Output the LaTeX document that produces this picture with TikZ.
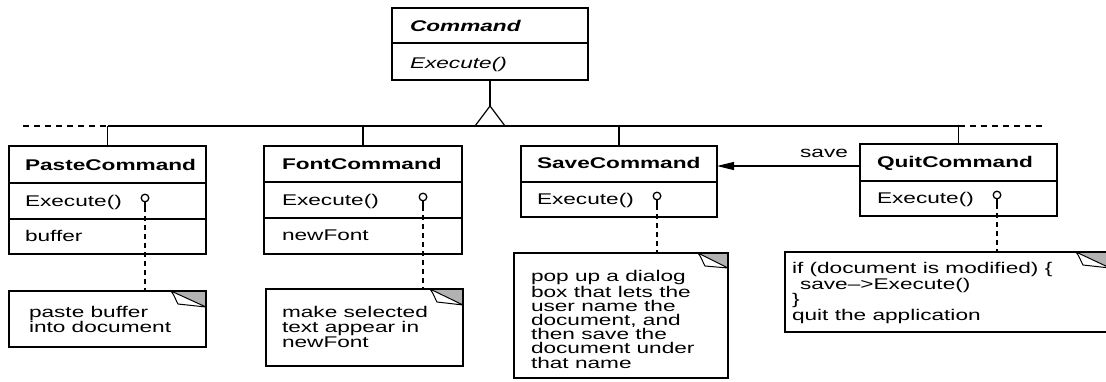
\documentclass[tikz,border=0pt]{standalone}
\usepackage{fontspec}
\setmainfont{Liberation Sans}[FakeStretch=1.46]
\usetikzlibrary{arrows.meta}
\newcommand\DiagSize{\fontsize{15.5}{15}\selectfont}
\tikzset{
  every node/.style={inner sep=0pt, outer sep=0pt},
  umlbox/.style={draw, line width=1.3pt, anchor=north west, fill=white},
  divider/.style={line width=1.2pt},
  cname/.style={anchor=base west, font=\DiagSize\bfseries},
  cnameit/.style={anchor=base west, font=\DiagSize\bfseries\itshape},
  optext/.style={anchor=base west, font=\DiagSize},
  opit/.style={anchor=base west, font=\DiagSize\itshape},
  notebox/.style={draw, line width=1.3pt, anchor=north west, fill=white},
  notetext/.style={anchor=base west, align=left},
  link/.style={line width=1.3pt},
  pinline/.style={line width=1.5pt, dash pattern=on 5pt off 4pt},
  hier/.style={line width=1.2pt},
  hierdash/.style={line width=1.2pt, dash pattern=on 6pt off 5pt},
  assoc/.style={line width=1.2pt, -{Triangle[length=17pt,width=8pt]}},
  foldfill/.style={fill=gray!60},
}
\newcommand\NoteCorner[3]{%
  \fill[foldfill] ([xshift=-#2pt]#1.north east) -- (#1.north east) -- ([yshift=-#3pt]#1.north east) -- cycle;
  \draw[line width=1.3pt] ([xshift=-#2pt]#1.north east) -- (#1.north east) -- ([yshift=-#3pt]#1.north east);
  \filldraw[fill=white, line width=1pt, line join=round]
    ([xshift=-#2pt]#1.north east)
    .. controls ([xshift=-#2pt+4pt,yshift=-5pt]#1.north east) and ([xshift=-#2pt+5pt,yshift=-10pt]#1.north east)
    .. ([xshift=-#2pt+7pt,yshift=-13pt]#1.north east)
    -- ([yshift=-#3pt]#1.north east) -- cycle;
}
\newcommand\PinAt[2]{%
  \draw[link] (#1) circle (3.8pt);
  \draw[link] ([yshift=-3.8pt]#1) -- ([yshift=-9pt]#1);
  \draw[pinline] ([yshift=-9pt]#1) -- (#1 |- #2.north);
}
\begin{document}
\begin{tikzpicture}[x=1pt,y=-1pt, font=\DiagSize]
\clip (0,0) rectangle (1106,381);
\fill[white] (0,0) rectangle (1106,381);

% ---------- Command ----------
\node[umlbox, minimum width=196pt, minimum height=72pt] (cmd) at (392,8) {};
\draw[divider] (cmd.west |- 0,43) -- (cmd.east |- 0,43);
\node[cnameit] (cmdT) at (410,31) {Command};
\node[opit] (cmdO) at (410,68) {Execute()};

% ---------- subclasses ----------
\node[umlbox, minimum width=197pt, minimum height=108pt] (paste) at (9,146) {};
\draw[divider] (paste.west |- 0,183) -- (paste.east |- 0,183);
\draw[divider] (paste.west |- 0,219) -- (paste.east |- 0,219);
\node[cname] (pasteT) at (25,170) {PasteCommand};
\node[optext] (pasteO) at (25,206) {Execute()};
\node[optext] (pasteA) at (25,241) {buffer};

\node[umlbox, minimum width=198pt, minimum height=108pt] (font) at (264,146) {};
\draw[divider] (font.west |- 0,182) -- (font.east |- 0,182);
\draw[divider] (font.west |- 0,218) -- (font.east |- 0,218);
\node[cname] (fontT) at (282,169) {FontCommand};
\node[optext] (fontO) at (282,205) {Execute()};
\node[optext] (fontA) at (282,240) {newFont};

\node[umlbox, minimum width=196pt, minimum height=71pt] (save) at (521,146) {};
\draw[divider] (save.west |- 0,182) -- (save.east |- 0,182);
\node[cname] (saveT) at (537,168) {SaveCommand};
\node[optext] (saveO) at (537,204) {Execute()};

\node[umlbox, minimum width=197pt, minimum height=72pt] (quit) at (860,144) {};
\draw[divider] (quit.west |- 0,181) -- (quit.east |- 0,181);
\node[cname] (quitT) at (877,167) {QuitCommand};
\node[optext] (quitO) at (877,203) {Execute()};

% ---------- inheritance ----------
\coordinate (apex) at (cmd.south |- 0,106);
\coordinate (bus) at (0,126);
\coordinate (busLd) at (23,126);
\coordinate (busRd) at (1042,126);
\draw[hier] (cmd.south) -- (apex);
\draw[hier, line join=miter] (apex) -- ++(-15,20) -- ++(30,0) -- cycle;
\draw[hier] (paste.north |- bus) -- (quit.north |- bus);
\draw[hierdash] (busLd) -- (paste.north |- bus);
\draw[hierdash] (quit.north |- bus) -- (busRd);
\draw[hier] (paste.north |- bus) -- (paste.north);
\draw[hier] (font.north |- bus) -- (font.north);
\draw[hier] (save.north |- bus) -- (save.north);
\draw[hier] (quit.north |- bus) -- (quit.north);

% ---------- association ----------
\coordinate (ay) at (0,166);
\draw[assoc] (quit.west |- ay) -- (save.east |- ay);
\node[anchor=base] (saveL) at (824,157) {save};

% ---------- notes (text anchored at baseline of last line) ----------
\node[notebox, minimum width=197pt, minimum height=56pt] (pasteN) at (9,291) {};
\NoteCorner{pasteN}{35}{16}
\node[notetext] (pasteNT) at (29,332) {paste buffer\\into document};

\node[notebox, minimum width=197pt, minimum height=77pt] (fontN) at (266,289) {};
\NoteCorner{fontN}{33}{16}
\node[notetext] (fontNT) at (282,347) {make selected\\text appear in\\newFont};

\node[notebox, minimum width=214pt, minimum height=125pt] (saveN) at (514,253) {};
\NoteCorner{saveN}{30}{15}
\node[notetext, font=\fontsize{15.5}{14.2}\selectfont] (saveNT) at (531,368) {pop up a dialog\\box that lets the\\user name the\\document, and\\then save the\\document under\\that name};

\node[notebox, minimum width=325pt, minimum height=80pt] (quitN) at (785,252) {};
\NoteCorner{quitN}{34}{16}
\node[notetext, font=\fontsize{15.5}{13.4}\selectfont] (quitNT) at (792,320) {if (document is modified) \{\\\hspace*{8pt}save--\textgreater Execute()\\\}\\quit the application};

% ---------- pins ----------
\coordinate (pasteP) at (145,198);
\coordinate (fontP) at (423,197);
\coordinate (saveP) at (657,196);
\coordinate (quitP) at (997,195);
\PinAt{pasteP}{pasteN}
\PinAt{fontP}{fontN}
\PinAt{saveP}{saveN}
\PinAt{quitP}{quitN}
\end{tikzpicture}
\end{document}
